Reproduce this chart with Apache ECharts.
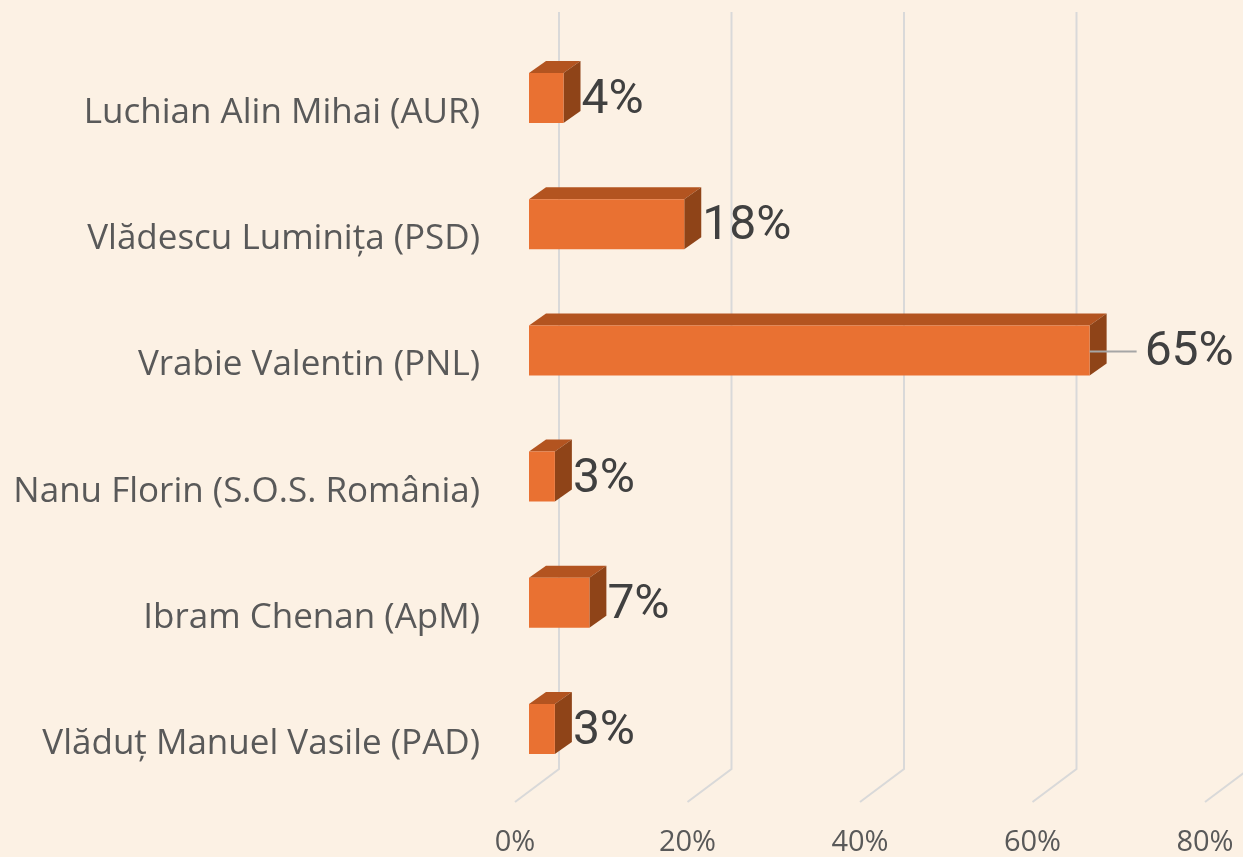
<!DOCTYPE html>
<html>
<head>
<meta charset="utf-8">
<script src="https://cdn.jsdelivr.net/npm/echarts@6/dist/echarts.min.js"></script>
<style>
html, body { margin: 0; background: #fcf1e4; }
#main { width: 1243px; height: 857px; }
</style>
</head>
<body>
<div id="main"></div>
<script>
// rezultate vot (%)
var candidates = [
    'Luchian Alin Mihai (AUR)',
    'Vlădescu Luminița (PSD)',
    'Vrabie Valentin (PNL)',
    'Nanu Florin (S.O.S. România)',
    'Ibram Chenan (ApM)',
    'Vlăduț Manuel Vasile (PAD)'
];
var votes = [4, 18, 65, 3, 7, 3];
var xTicks = [0, 20, 40, 60, 80];

// adancime podea 3D
var FLOOR_DX = 44, FLOOR_DY = 33;
var BAR_DX = 17, BAR_DY = 12;
var maxVote = Math.max.apply(null, votes);

var dom = document.getElementById('main');
var myChart = echarts.init(dom);

function renderGrid(params, api) {
    var p = api.coord([api.value(0), 0]);
    var cs = params.coordSys;
    var bottom = cs.y + cs.height;
    return {
        type: 'polyline',
        shape: { points: [[p[0], bottom], [p[0] + FLOOR_DX, bottom - FLOOR_DY], [p[0] + FLOOR_DX, cs.y - FLOOR_DY]] },
        style: { stroke: '#d9d9d9', lineWidth: 2, fill: null }
    };
}

function renderBar(params, api) {
    var v = api.value(0);
    var p0 = api.coord([0, api.value(1)]);
    var p1 = api.coord([v, api.value(1)]);
    var x0 = p0[0] + 14, x1 = p1[0] + 14;
    var yc = p0[1] - 10;
    var top = yc - 25, bot = yc + 25;
    var children = [
        { type: 'polygon', shape: { points: [[x0, top], [x1, top], [x1 + BAR_DX, top - BAR_DY], [x0 + BAR_DX, top - BAR_DY]] },
          style: { fill: '#b35420' } },
        { type: 'polygon', shape: { points: [[x1, top], [x1, bot], [x1 + BAR_DX, bot - BAR_DY], [x1 + BAR_DX, top - BAR_DY]] },
          style: { fill: '#8f4418' } },
        { type: 'rect', shape: { x: x0, y: top, width: x1 - x0, height: bot - top },
          style: { fill: '#e97132' } }
    ];
    var lx = x1 + BAR_DX + 1;
    // eticheta mutata la dreapta pt bara cea mai lunga
    if (v === maxVote) {
        children.push({ type: 'line', shape: { x1: x1, y1: yc + 1, x2: x1 + 47, y2: yc + 1 },
            style: { stroke: '#a6a6a6', lineWidth: 2 } });
        lx = x1 + 55;
    }
    children.push({
        type: 'text',
        style: { text: v + '%', x: lx, y: yc + 3, fill: '#404040',
            font: '48px Roboto', textAlign: 'left', textVerticalAlign: 'middle' }
    });
    return { type: 'group', children: children };
}

option = {
    backgroundColor: '#fcf1e4',
    animation: false,
    grid: { left: 515, right: 38, top: 45, bottom: 54 },
    xAxis: {
        type: 'value',
        min: 0, max: 80, interval: 20,
        axisLine: { show: false },
        axisTick: { show: false },
        splitLine: { show: false },
        axisLabel: { formatter: '{value}%', fontSize: 29, fontFamily: 'Open Sans', color: '#595959', margin: 26 }
    },
    yAxis: {
        type: 'category',
        inverse: true,
        data: candidates,
        axisLine: { show: false },
        axisTick: { show: false },
        axisLabel: { fontSize: 35, fontFamily: 'Open Sans', color: '#595959', margin: 35,
            verticalAlign: 'top', lineHeight: 10 }
    },
    series: [{
        type: 'custom',
        z: 1,
        renderItem: renderGrid,
        encode: { x: 0, y: 1 },
        data: xTicks.map(function (t) { return [t, 0]; })
    }, {
        type: 'custom',
        z: 2,
        renderItem: renderBar,
        encode: { x: 0, y: 1 },
        data: votes.map(function (v, i) { return [v, i]; })
    }]
};
myChart.setOption(option);
</script>
</body>
</html>
